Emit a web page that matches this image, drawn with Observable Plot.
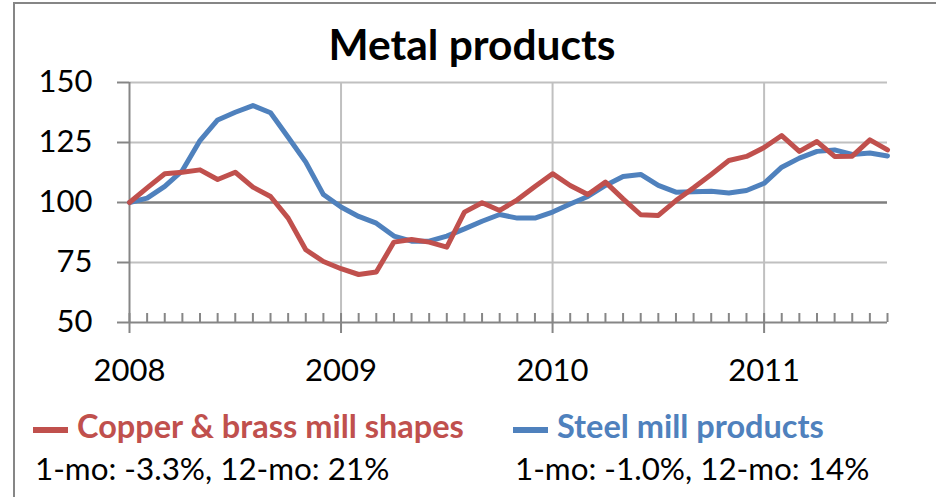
<!DOCTYPE html>
<html><head><meta charset="utf-8">
<script src="https://cdn.jsdelivr.net/npm/d3@7"></script>
<script src="https://cdn.jsdelivr.net/npm/@observablehq/plot@0.6"></script>
<style>
body{margin:0;background:#fff;font-family:Lato,sans-serif;}
#wrap{position:relative;width:936px;height:497px;overflow:hidden;background:#fff;}
#frame{position:absolute;left:13px;top:2px;width:1000px;height:600px;border-left:2px solid #868686;border-top:2px solid #868686;}
#chart{position:absolute;left:0;top:0;}
#overlay{position:absolute;left:0;top:0;}
</style></head><body>
<div id="wrap"><div id="frame"></div><div id="chart"></div><svg id="overlay" width="936" height="497"></svg></div>
<script>
const title = "Metal products";
const seriesNames = ["Copper & brass mill shapes", "Steel mill products"];
const seriesStats = ["1-mo: -3.3%, 12-mo: 21%", "1-mo: -1.0%, 12-mo: 14%"];
const seriesColors = ["#C0504D", "#4F81BD"];
const yearLabels = ["2008", "2009", "2010", "2011"];
const yTicks = [50, 75, 100, 125, 150];
// monthly, Jan 2008 .. Aug 2011
const months = d3.utcMonths(new Date(Date.UTC(2008, 0, 1)), new Date(Date.UTC(2011, 8, 1)));
const copper = [100, 106.1, 112, 112.6, 113.6, 109.6, 112.6, 106.4, 102.5, 93.5, 80.3, 75.4,
  72.4, 70, 71, 83.5, 84.6, 83.5, 81.4, 96, 99.9, 96.7, 101.1, 106.7,
  112, 107.1, 103.3, 108.5, 101.5, 94.9, 94.6, 100.8, 106.1, 111.7, 117.5, 119.2,
  122.9, 127.9, 121.3, 125.4, 119.2, 119.3, 126.1, 121.9];
const steel = [100, 101.8, 106.7, 113.3, 125.8, 134.4, 137.6, 140.4, 137.4, 127.2, 116.8, 103.3,
  98.1, 94.2, 91.4, 86, 83.9, 83.9, 86, 89, 92.2, 95, 93.5, 93.5,
  96, 99.4, 102.5, 107.1, 110.8, 111.7, 107.1, 104.3, 104.5, 104.7, 104, 105,
  108, 114.7, 118.5, 121.3, 121.9, 120, 120.6, 119.4];

const data = months.map((m, i) => ({i, month: m, copper: copper[i], steel: steel[i]}));
const monthIdx = months.map((m, i) => i);
const yearIdx = monthIdx.filter(i => months[i].getUTCMonth() === 0);
const yearMap = new Map(yearIdx.map((d, k) => [d, yearLabels[k]]));

const plot = Plot.plot({
  width: 936, height: 400,
  marginLeft: 129, marginRight: 49, marginTop: 82, marginBottom: 78,
  style: {fontFamily: "Lato, sans-serif", fontSize: "31px", background: "transparent", overflow: "visible"},
  x: {type: "linear", domain: [0, monthIdx.length - 1]},
  y: {domain: [yTicks[0], yTicks[yTicks.length - 1]]},
  marks: [
    Plot.ruleY(yTicks.filter(d => d !== 100 && d !== 50), {stroke: "#c0c0c0", strokeWidth: 2}),
    Plot.ruleX(yearIdx.slice(1), {stroke: "#c0c0c0", strokeWidth: 2}),
    Plot.ruleX(monthIdx, {insetTop: 231, stroke: "#868686", strokeWidth: 2}),
    Plot.ruleY([100], {stroke: "#7f7f7f", strokeWidth: 2.5}),
    Plot.ruleY([50], {stroke: "#868686", strokeWidth: 2}),
    Plot.ruleX([0], {stroke: "#868686", strokeWidth: 2}),
    Plot.axisY({ticks: yTicks, tickSize: 12, tickPadding: 25, stroke: "#868686", fill: "black", strokeWidth: 2, label: null, tickFormat: d => String(d)}),
    Plot.axisX({ticks: yearIdx, tickSize: 11, tickPadding: 25, stroke: "#868686", fill: "black", strokeWidth: 2, label: null, tickFormat: d => yearMap.get(d)}),
    Plot.line(data, {x: "i", y: "steel", stroke: seriesColors[1], strokeWidth: 5}),
    Plot.line(data, {x: "i", y: "copper", stroke: seriesColors[0], strokeWidth: 5})
  ]
});
document.getElementById("chart").appendChild(plot);

const ov = d3.select("#overlay");
ov.append("text").attr("x", 472).attr("y", 60).attr("text-anchor", "middle")
  .attr("font-family", "Lato, sans-serif").attr("font-weight", "bold").attr("font-size", 42.5).text(title);
const legX = [33, 513];
seriesNames.forEach((name, k) => {
  ov.append("line").attr("x1", legX[k]).attr("x2", legX[k] + 35).attr("y1", 430).attr("y2", 430)
    .attr("stroke", seriesColors[k]).attr("stroke-width", 6);
  ov.append("text").attr("x", legX[k] + 44).attr("y", 438).attr("fill", seriesColors[k])
    .attr("font-family", "Lato, sans-serif").attr("font-weight", "bold").attr("font-size", 32.5).text(name);
  ov.append("text").attr("x", legX[k] + 2).attr("y", 480).attr("fill", "black")
    .attr("font-family", "Lato, sans-serif").attr("font-size", 31.4).text(seriesStats[k]);
});
</script>
</body></html>
